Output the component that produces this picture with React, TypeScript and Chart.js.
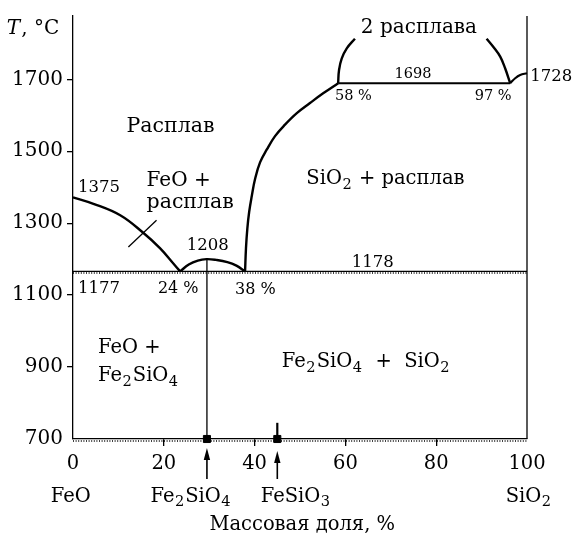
import React, { useEffect, useRef } from "react";
import { Chart, registerables } from "chart.js";
Chart.register(...registerables);

const FONT = '"DejaVu Serif", "Liberation Serif", serif';

// axes
const xTicks = [0, 20, 40, 60, 80, 100];
const yTicks = [700, 900, 1100, 1300, 1500, 1700];
const xMin = 0, xMax = 100, yMin = 700, yMax = 1876;

// phase boundaries (mass % SiO2, T °C)
const feoLiqX = [0, 4.5, 10.4, 15.4, 19.2, 22.1, 23.6];
const feoLiqT = [1372, 1354, 1322, 1274, 1230, 1188, 1166];
const faDomeX = [23.6, 25.5, 27.5, 29.4, 31.5, 34, 36, 37.9];
const faDomeT = [1166, 1185, 1196, 1200, 1198, 1192, 1182, 1166];
const silLiqX = [37.9, 38.1, 38.4, 38.8, 39.4, 40.1, 41.2, 42.7, 44.5, 46.7, 49.3, 52.2, 55.1, 58.4];
const silLiqT = [1166, 1230, 1285, 1331, 1377, 1423, 1469, 1505, 1542, 1574, 1606, 1634, 1661, 1689];
const monotecticX = [58.4, 96.3];
const monotecticT = [1689, 1689];
const gapLeftX = [58.4, 58.6, 59.2, 60.3, 62.1];
const gapLeftT = [1689, 1726, 1758, 1786, 1813];
const gapRightX = [91.1, 92.6, 94.1, 95.2, 96.3];
const gapRightT = [1813, 1790, 1763, 1730, 1689];
const sio2LiqX = [96.3, 97.4, 98.5, 100];
const sio2LiqT = [1689, 1703, 1712, 1717];
const eutecticX = [0, 100];
const eutecticT = [1166, 1166];
const fayaliteX = [29.5, 29.5];
const fayaliteT = [700, 1200];
const ferrosiliteX = [45, 45];
const ferrosiliteT = [700, 745];
const crossX = [12.2, 18.4];
const crossT = [1234, 1308];
const rightEdgeX = [100, 100];
const rightEdgeT = [700, 1876];
const compoundX = [29.5, 45];
const compoundT = [700, 700];

// text annotations: text, x (%), y (°C), font size, alignment, italic
const notes: [string, number, number, number, string, boolean?][] = [
  ["T", -14.6, 1827, 20, "left", true],
  [", °C", -11.4, 1827, 20, "left"],
  ["Расплав", 11.8, 1553, 20.5, "left"],
  ["1375", 1.1, 1386, 16.5, "left"],
  ["FeO +", 16.2, 1404, 20, "left"],
  ["расплав", 16.2, 1342, 20.5, "left"],
  ["1208", 29.7, 1225, 16.5, "center"],
  ["1177", 1.1, 1106, 16.5, "left"],
  ["24 %", 18.7, 1106, 16, "left"],
  ["38 %", 35.7, 1102, 16, "left"],
  ["1178", 66, 1179, 16.5, "center"],
  ["SiO_2 + расплав", 51.4, 1409, 19.5, "left"],
  ["1698", 74.9, 1703, 14.5, "center"],
  ["58 %", 57.7, 1643, 14.5, "left"],
  ["97 %", 88.5, 1643, 14.5, "left"],
  ["1728", 100.7, 1694, 16.5, "left"],
  ["2 расплава", 76.2, 1829, 20, "center"],
  ["FeO +", 5.5, 940, 19.5, "left"],
  ["Fe_2SiO_4", 5.5, 862, 19.5, "left"],
  ["Fe_2SiO_4  +  SiO_2", 46, 899, 19.5, "left"],
  ["FeO", -0.5, 526, 19.5, "center"],
  ["Fe_2SiO_4", 26, 526, 19.5, "center"],
  ["FeSiO_3", 49.1, 526, 19.5, "center"],
  ["SiO_2", 100.4, 526, 19.5, "center"],
  ["Массовая доля, %", 50.5, 447, 19.5, "center"],
];

// arrows below the axis pointing at the compounds: x (%), tip offset, tail offset (px below axis)
const arrows: [number, number, number][] = [
  [29.5, 9, 40],
  [45, 12, 40],
];

const zip = (xs: number[], ys: number[]) => xs.map((x, i) => ({ x, y: ys[i] }));

function drawRich(ctx: CanvasRenderingContext2D, text: string, x: number, y: number, size: number, align: string, italic?: boolean) {
  const st = italic ? "italic " : "";
  const segs = text.split(/(_\d)/).filter(Boolean).map((p) =>
    p.startsWith("_") ? { s: p.slice(1), sub: true, w: 0 } : { s: p, sub: false, w: 0 }
  );
  let total = 0;
  for (const g of segs) {
    ctx.font = `${st}${g.sub ? size * 0.75 : size}px ${FONT}`;
    g.w = ctx.measureText(g.s).width + (g.sub ? 1.5 : 0);
    total += g.w;
  }
  let cx = align === "center" ? x - total / 2 : align === "right" ? x - total : x;
  ctx.textAlign = "left";
  ctx.textBaseline = "alphabetic";
  for (const g of segs) {
    ctx.font = `${st}${g.sub ? size * 0.75 : size}px ${FONT}`;
    ctx.fillText(g.s, g.sub ? cx + 0.5 : cx, g.sub ? y + size * 0.25 : y);
    cx += g.w;
  }
}

const decorPlugin = {
  id: "decor",
  beforeDatasetsDraw(chart: any) {
    const { ctx, chartArea, scales } = chart;
    const ys = [eutecticT[0], yMin];
    ctx.save();
    ctx.strokeStyle = "#000";
    ctx.lineWidth = 1.3;
    ctx.setLineDash([1, 1.6]);
    for (const v of ys) {
      const py = Math.round(scales.y.getPixelForValue(v)) + 2;
      ctx.beginPath();
      ctx.moveTo(chartArea.left, py);
      ctx.lineTo(chartArea.right, py);
      ctx.stroke();
    }
    ctx.restore();
  },
  afterDraw(chart: any) {
    const { ctx, chartArea, scales } = chart;
    ctx.save();
    ctx.fillStyle = "#000";
    for (const [t, x, y, size, align, it] of notes) {
      drawRich(ctx, t, scales.x.getPixelForValue(x), scales.y.getPixelForValue(y), size, align, it);
    }
    ctx.strokeStyle = "#000";
    ctx.lineWidth = 1.6;
    for (const [x, tip, tail] of arrows) {
      const px = scales.x.getPixelForValue(x);
      const ty = chartArea.bottom + tip;
      ctx.beginPath();
      ctx.moveTo(px, chartArea.bottom + tail);
      ctx.lineTo(px, ty + 8);
      ctx.stroke();
      ctx.beginPath();
      ctx.moveTo(px, ty);
      ctx.lineTo(px - 3.2, ty + 12);
      ctx.lineTo(px + 3.2, ty + 12);
      ctx.closePath();
      ctx.fill();
    }
    ctx.restore();
  },
};

const line = (data: any[], width: number, smooth = false) => ({
  data,
  borderColor: "#000",
  backgroundColor: "#000",
  borderWidth: width,
  pointRadius: 0,
  showLine: true,
  fill: false,
  clip: false as any,
  tension: smooth ? 0.4 : 0,
});

export default function App() {
  const ref = useRef<HTMLCanvasElement | null>(null);
  useEffect(() => {
    if (!ref.current) return;
    const chart = new Chart(ref.current, {
      type: "scatter",
      data: {
        datasets: [
          line(zip(feoLiqX, feoLiqT), 2.4, true),
          line(zip(faDomeX, faDomeT), 2.4, true),
          line(zip(silLiqX, silLiqT), 2.4, true),
          line(zip(monotecticX, monotecticT), 2.2),
          line(zip(gapLeftX, gapLeftT), 2.4, true),
          line(zip(gapRightX, gapRightT), 2.4, true),
          line(zip(sio2LiqX, sio2LiqT), 2.2, true),
          line(zip(eutecticX, eutecticT), 1.3),
          line(zip(fayaliteX, fayaliteT), 1.3),
          line(zip(ferrosiliteX, ferrosiliteT), 2.2),
          line(zip(crossX, crossT), 1.3),
          line(zip(rightEdgeX, rightEdgeT), 1.3),
          {
            data: zip(compoundX, compoundT),
            pointStyle: "rect",
            pointRadius: 5,
            backgroundColor: "#000",
            borderColor: "#000",
            showLine: false,
            clip: false as any,
          },
        ],
      },
      options: {
        animation: false,
        responsive: false,
        events: [],
        layout: { padding: { top: 12, right: 50, left: 0, bottom: 0 } },
        plugins: { legend: { display: false }, tooltip: { enabled: false } },
        scales: {
          x: {
            type: "linear",
            min: xMin,
            max: xMax,
            afterBuildTicks: (s: any) => { s.ticks = xTicks.map((v) => ({ value: v })); },
            afterFit: (s: any) => { s.height = 96; },
            border: { display: true, color: "#000", width: 1.3 },
            grid: {
              drawOnChartArea: false,
              drawTicks: true,
              tickLength: 7,
              lineWidth: 1.3,
              color: (c: any) => (c.tick && (c.tick.value === 0 || c.tick.value === 100) ? "rgba(0,0,0,0)" : "#000"),
            },
            ticks: { color: "#000", padding: 6, font: { family: FONT, size: 19.5 }, maxRotation: 0, callback: (v: any) => String(v) },
          },
          y: {
            type: "linear",
            min: yMin,
            max: yMax,
            afterBuildTicks: (s: any) => { s.ticks = yTicks.map((v) => ({ value: v })); },
            afterFit: (s: any) => { s.width = 73; },
            border: { display: true, color: "#000", width: 1.3 },
            grid: {
              drawOnChartArea: false,
              drawTicks: true,
              tickLength: 6,
              lineWidth: 1.3,
              color: (c: any) => (c.tick && c.tick.value === 700 ? "rgba(0,0,0,0)" : "#000"),
            },
            ticks: { color: "#000", padding: 4, font: { family: FONT, size: 20 }, callback: (v: any) => String(v) },
          },
        },
      },
      plugins: [decorPlugin],
    });
    return () => chart.destroy();
  }, []);
  return (
    <div style={{ position: "fixed", left: 0, top: 0, width: 577, height: 535, background: "#fff" }}>
      <canvas ref={ref} width={577} height={535} style={{ display: "block" }} />
    </div>
  );
}
